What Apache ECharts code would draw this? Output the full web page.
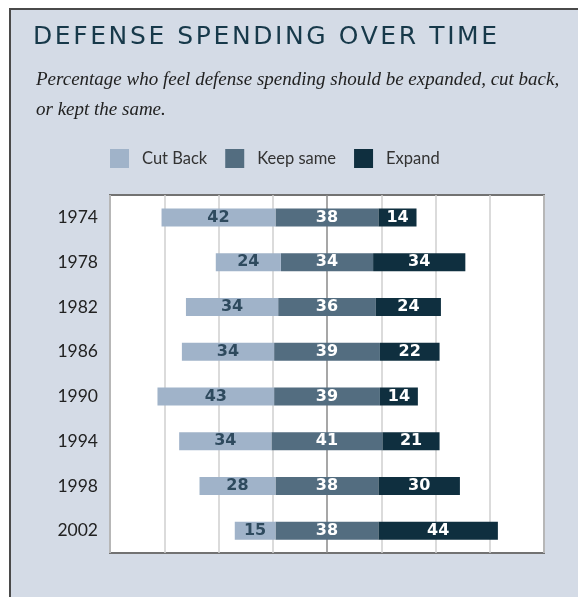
<!DOCTYPE html>
<html>
<head>
<meta charset="utf-8">
<script src="https://cdn.jsdelivr.net/npm/echarts@6/dist/echarts.min.js"></script>
<style>
  html, body { margin: 0; padding: 0; background: #fff; }
  .wrap { position: relative; width: 578px; height: 597px; }
  #defenseChart { width: 578px; height: 597px; }
  .title {
    position: absolute; left: 33px; top: 21px;
    font-family: 'DejaVu Sans'; font-size: 25px; letter-spacing: 2.6px;
    color: #17394a; white-space: nowrap;
  }
</style>
</head>
<body>
<div class="wrap">
  <div id="defenseChart"></div>
  <div class="title">DEFENSE SPENDING OVER TIME</div>
</div>
<script>
// survey years, top to bottom
var years = ['1974', '1978', '1982', '1986', '1990', '1994', '1998', '2002'];
// percentages per answer
var cutBack = [42, 24, 34, 34, 43, 34, 28, 15];
var keepSame = [38, 34, 36, 39, 39, 41, 38, 38];
var expand = [14, 34, 24, 22, 14, 21, 30, 44];

var chart = echarts.init(document.getElementById('defenseChart'));

// keep same is split in two halves so it sits centred on zero
var keepLeft = keepSame.map(function (v) { return -v / 2; });
var keepRight = keepSame.map(function (v) { return v / 2; });
var cutNeg = cutBack.map(function (v) { return -v; });

var labelFont = {
    show: true,
    fontFamily: 'DejaVu Sans',
    fontWeight: 'bold',
    fontSize: 16
};

var option = {
    animation: false,
    backgroundColor: 'transparent',
    graphic: [
        { type: 'rect', z: -10, shape: { x: 11, y: 10, width: 600, height: 600 }, style: { fill: '#d4dbe6' } },
        { type: 'rect', z: -9, shape: { x: 9, y: 8, width: 600, height: 2 }, style: { fill: '#4a4a4a' } },
        { type: 'rect', z: -9, shape: { x: 9, y: 8, width: 2, height: 600 }, style: { fill: '#4a4a4a' } }
    ],
    title: {
        text: 'Percentage who feel defense spending should be expanded, cut back,\nor kept the same.',
        left: 31,
        top: 60,
        textStyle: { fontFamily: 'Liberation Serif', fontStyle: 'italic', fontWeight: 'normal', fontSize: 19, lineHeight: 30, color: '#222' }
    },
    legend: {
        data: ['Cut Back', 'Keep same', 'Expand'],
        left: 105,
        top: 144,
        icon: 'rect',
        itemWidth: 19,
        itemHeight: 19,
        itemGap: 18,
        textStyle: { fontFamily: 'Lato', fontSize: 16.5, color: '#333', padding: [0, 0, 0, 8] }
    },
    grid: {
        left: 110,
        top: 195,
        width: 434,
        height: 358,
        show: true,
        backgroundColor: '#fff',
        borderColor: '#727272',
        borderWidth: 2
    },
    xAxis: {
        type: 'value',
        min: -80,
        max: 80,
        interval: 20,
        axisLabel: { show: false },
        axisLine: { show: false },
        axisTick: { show: false },
        splitLine: {
            lineStyle: {
                width: 1.5,
                color: ['#cfcfcf', '#cfcfcf', '#cfcfcf', '#cfcfcf', '#8a8a8a', '#cfcfcf', '#cfcfcf', '#cfcfcf', '#cfcfcf']
            }
        }
    },
    yAxis: {
        type: 'category',
        data: years,
        inverse: true,
        axisLine: { show: false },
        axisTick: { show: false },
        axisLabel: { margin: 12, fontFamily: 'Lato', fontSize: 17.5, color: '#222' }
    },
    series: [
        {
            name: 'Keep same',
            type: 'bar',
            stack: 'total',
            barWidth: 18,
            itemStyle: { color: '#536d80' },
            data: keepLeft
        },
        {
            name: 'Keep same',
            type: 'bar',
            stack: 'total',
            barWidth: 18,
            itemStyle: { color: '#536d80' },
            data: keepRight,
            label: Object.assign({}, labelFont, {
                position: [0, '50%'],
                align: 'center',
                verticalAlign: 'middle',
                color: '#fff',
                formatter: function (p) { return keepSame[p.dataIndex]; }
            })
        },
        {
            name: 'Cut Back',
            type: 'bar',
            stack: 'total',
            barWidth: 18,
            itemStyle: { color: '#a0b3c9' },
            data: cutNeg,
            label: Object.assign({}, labelFont, {
                position: 'inside',
                color: '#2e4a5e',
                formatter: function (p) { return Math.abs(p.value); }
            })
        },
        {
            name: 'Expand',
            type: 'bar',
            stack: 'total',
            barWidth: 18,
            itemStyle: { color: '#0f2f3f' },
            data: expand,
            label: Object.assign({}, labelFont, {
                position: 'inside',
                color: '#fff'
            })
        }
    ]
};

chart.setOption(option);
</script>
</body>
</html>
